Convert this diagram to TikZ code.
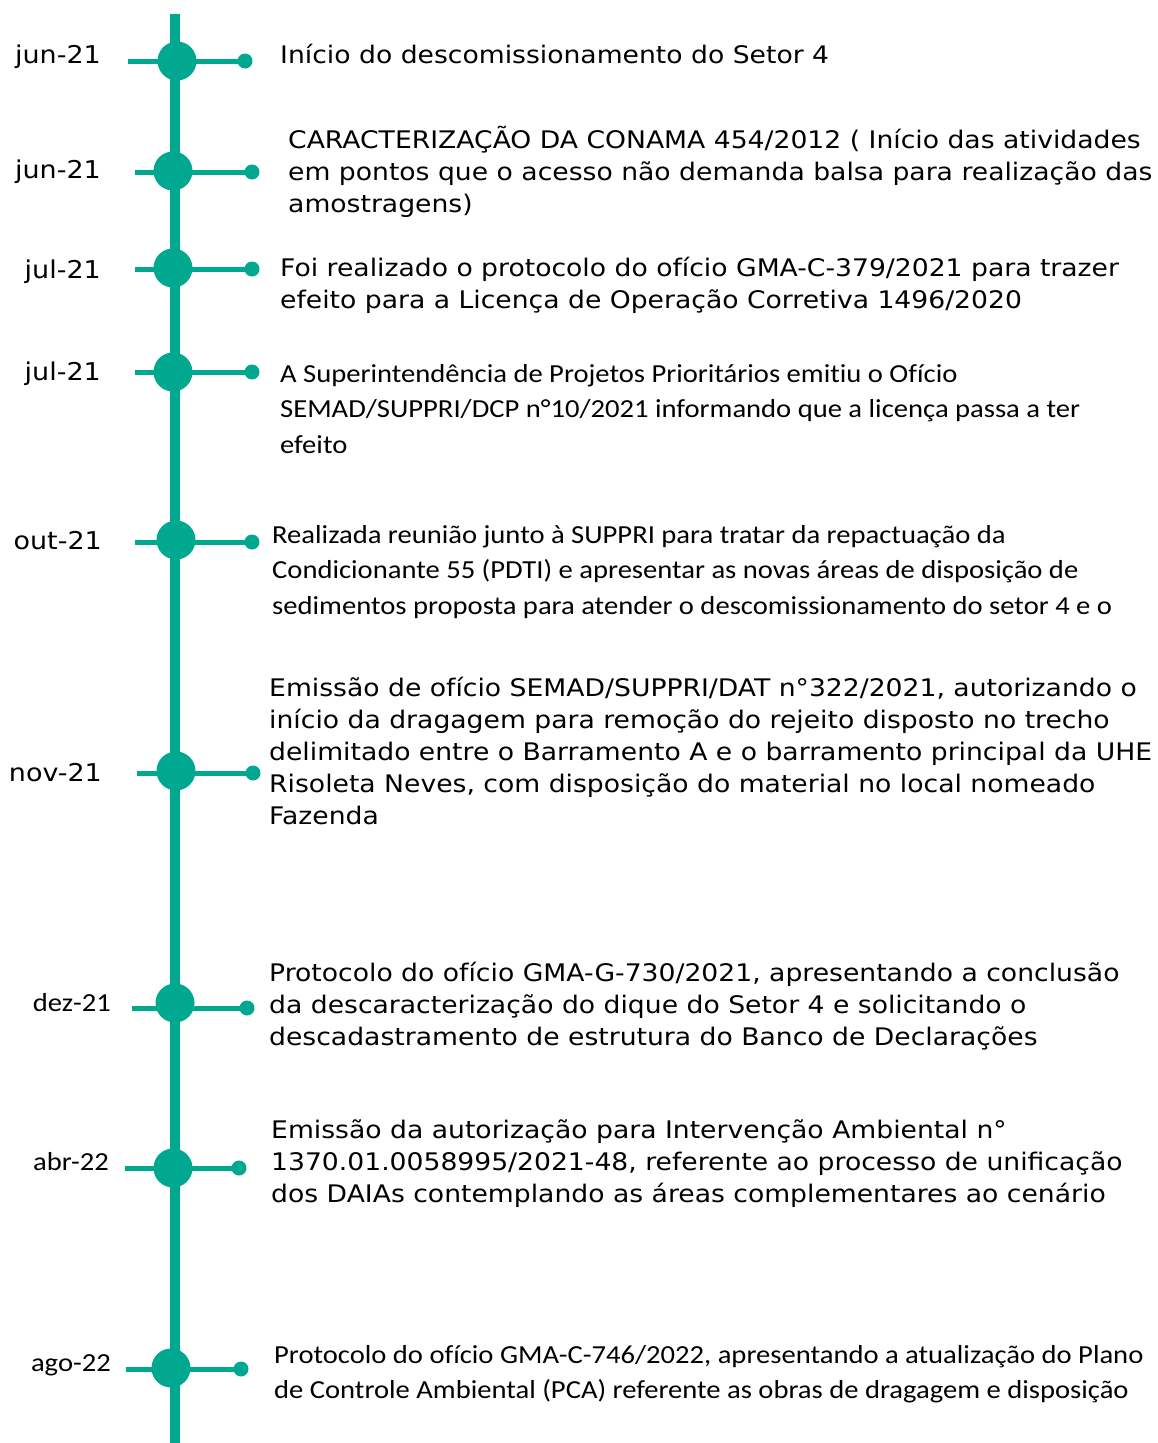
\documentclass[tikz,border=0pt]{standalone}
\usepackage{fontspec}
\usepackage{tikz}
\usetikzlibrary{positioning}
\newfontfamily\verdfont[FakeStretch=1.1]{DejaVu Sans}
\newfontfamily\calfont[FakeStretch=1.1, Ligatures=NoCommon]{Carlito}
\definecolor{lineteal}{HTML}{00A88F}

\begin{document}
\begin{tikzpicture}[x=1pt, y=-1pt,
        axis/.style={draw=lineteal, line width=10pt},
        stem/.style={draw=lineteal, line width=5pt},
        hub/.style={circle, fill=lineteal, minimum size=39pt, inner sep=0pt},
        tip/.style={circle, fill=lineteal, minimum size=15pt, inner sep=0pt},
        dateV/.style={anchor=east, inner sep=0pt, font=\verdfont\fontsize{24.5}{30}\selectfont},
        dateC/.style={anchor=east, inner sep=0pt, font=\calfont\fontsize{26}{30}\selectfont},
        noteV/.style={anchor=west, align=left, inner sep=0pt, font=\verdfont\fontsize{24.2}{32}\selectfont},
        noteC/.style={anchor=west, align=left, inner sep=0pt, font=\calfont\fontsize{26}{35.5}\selectfont},
    ]
    \useasboundingbox (0,0) rectangle (1157,1443);
    \coordinate (top) at (175,14);
    \coordinate (bottom) at (175,1443);
    \draw[axis] (top) -- (bottom);
    % jun-21, first
    \coordinate (l1) at (128,61);
    \node[tip] (t1) at (245,61) {};
    \draw[stem] (l1) -- (t1.center);
    \node[hub] (h1) at (177,61) {};
    \node[dateV] (d1) at (101,57) {jun-21};
    \node[noteV] (n1) at (280,54) {Início do descomissionamento do Setor 4};
    % jun-21, second
    \coordinate (l2) at (135,172);
    \node[tip] (t2) at (252,172) {};
    \draw[stem] (l2) -- (t2.center);
    \node[hub] (h2) at (173,171) {};
    \node[dateV] (d2) at (101,172) {jun-21};
    \node[noteV] (n2) at (288,172)
        {CARACTERIZAÇÃO DA CONAMA 454/2012 ( Início das atividades\\em pontos que o acesso não demanda balsa para realização das\\amostragens)};
    % jul-21, first
    \coordinate (l3) at (135,269);
    \node[tip] (t3) at (252,269) {};
    \draw[stem] (l3) -- (t3.center);
    \node[hub] (h3) at (173,268) {};
    \node[dateV] (d3) at (101,272) {jul-21};
    \node[noteV] (n3) at (280,285)
        {Foi realizado o protocolo do ofício GMA-C-379/2021 para trazer\\efeito para a Licença de Operação Corretiva 1496/2020};
    % jul-21, second
    \coordinate (l4) at (135,372);
    \node[tip] (t4) at (252,372) {};
    \draw[stem] (l4) -- (t4.center);
    \node[hub] (h4) at (173,372) {};
    \node[dateV] (d4) at (101,374) {jul-21};
    \node[noteC] (n4) at (280,409)
        {A Superintendência de Projetos Prioritários emitiu o Ofício\\SEMAD/SUPPRI/DCP n°10/2021 informando que a licença passa a ter\\efeito};
    % out-21
    \coordinate (l5) at (135,542);
    \node[tip] (t5) at (252,542) {};
    \draw[stem] (l5) -- (t5.center);
    \node[hub] (h5) at (176,540) {};
    \node[dateV] (d5) at (102,541) {out-21};
    \node[noteC] (n5) at (272,572)
        {Realizada reunião junto à SUPPRI para tratar da repactuação da\\Condicionante 55 (PDTI) e apresentar as novas áreas de disposição de\\sedimentos proposta para atender o descomissionamento do setor 4 e o};
    % nov-21
    \coordinate (l6) at (137,773);
    \node[tip] (t6) at (253,773) {};
    \draw[stem] (l6) -- (t6.center);
    \node[hub] (h6) at (176,771) {};
    \node[dateV] (d6) at (102,773) {nov-21};
    \node[noteV] (n6) at (269,751)
        {Emissão de ofício SEMAD/SUPPRI/DAT n°322/2021, autorizando o\\início da dragagem para remoção do rejeito disposto no trecho\\delimitado entre o Barramento A e o barramento principal da UHE\\Risoleta Neves, com disposição do material no local nomeado\\Fazenda};
    % dez-21
    \coordinate (l7) at (132,1008);
    \node[tip] (t7) at (247,1008) {};
    \draw[stem] (l7) -- (t7.center);
    \node[hub] (h7) at (175,1003) {};
    \node[dateC] (d7) at (111,1003) {dez-21};
    \node[noteV] (n7) at (269,1006)
        {Protocolo do ofício GMA-G-730/2021, apresentando a conclusão\\da descaracterização do dique do Setor 4 e solicitando o\\descadastramento de estrutura do Banco de Declarações};
    % abr-22
    \coordinate (l8) at (125,1168);
    \node[tip] (t8) at (239,1168) {};
    \draw[stem] (l8) -- (t8.center);
    \node[hub] (h8) at (173,1168) {};
    \node[dateC] (d8) at (109,1162) {abr-22};
    \node[noteV] (n8) at (271,1164)
        {Emissão da autorização para Intervenção Ambiental n°\\1370.01.0058995/2021-48, referente ao processo de unificação\\dos DAIAs contemplando as áreas complementares ao cenário};
    % ago-22
    \coordinate (l9) at (126,1369);
    \node[tip] (t9) at (241,1369) {};
    \draw[stem] (l9) -- (t9.center);
    \node[hub] (h9) at (171,1368) {};
    \node[dateC] (d9) at (111,1365) {ago-22};
    \node[noteC] (n9) at (274,1374)
        {Protocolo do ofício GMA-C-746/2022, apresentando a atualização do Plano\\de Controle Ambiental (PCA) referente as obras de dragagem e disposição};
\end{tikzpicture}
\end{document}
